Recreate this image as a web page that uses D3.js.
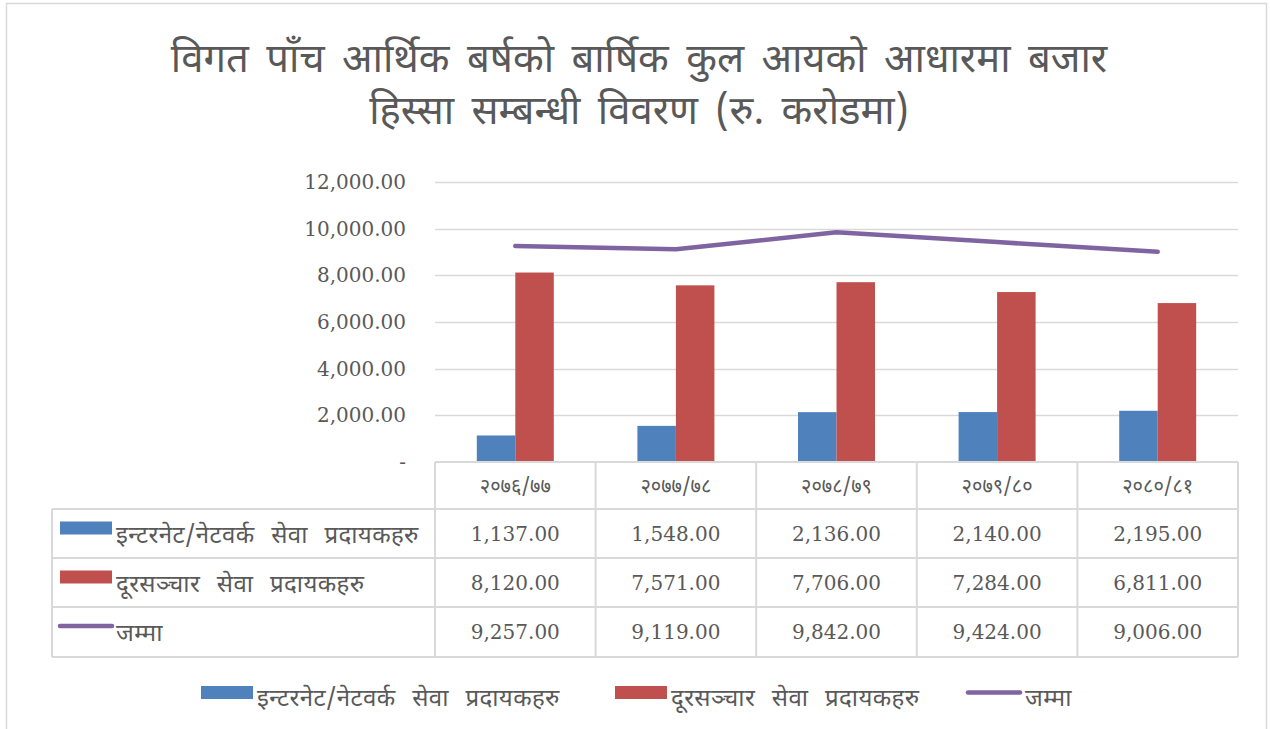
<!DOCTYPE html>
<html>
<head>
<meta charset="utf-8">
<script src="https://cdn.jsdelivr.net/npm/d3@7/dist/d3.min.js"></script>
<style>
  html, body { margin: 0; padding: 0; background: #fff; }
  svg { display: block; }
</style>
</head>
<body>
<svg id="chart" width="1270" height="729"></svg>
<script>
// ---- DATA ----
const titleLines = ["विगत पाँच आर्थिक बर्षको बार्षिक कुल आयको आधारमा बजार", "हिस्सा सम्बन्धी विवरण (रु. करोडमा)"];
const categories = ["२०७६/७७", "२०७७/७८", "२०७८/७९", "२०७९/८०", "२०८०/८१"];
const seriesNames = ["इन्टरनेट/नेटवर्क सेवा प्रदायकहरु", "दूरसञ्चार सेवा प्रदायकहरु", "जम्मा"];
const internetValues = [1137, 1548, 2136, 2140, 2195];
const telecomValues = [8120, 7571, 7706, 7284, 6811];
const totalValues = [9257, 9119, 9842, 9424, 9006];
const yTickValues = [0, 2000, 4000, 6000, 8000, 10000, 12000];

// ---- STYLE ----
const colors = ["#4F81BD", "#C0504D", "#8064A2"];
const textColor = "#595959";
const gridColor = "#D9D9D9";
const devaFont = "'Noto Sans Devanagari', 'Nirmala UI', 'Mangal', 'Lohit Devanagari', 'Noto Sans', sans-serif";
const numFont = "'DejaVu Serif', 'Liberation Serif', serif";

const svg = d3.select("#chart");

// outer border
svg.append("rect").attr("x", 6.5).attr("y", 3.5).attr("width", 1260).attr("height", 740)
  .attr("fill", "#fff").attr("stroke", gridColor).attr("stroke-width", 1.5);

// title
svg.append("g").selectAll("text").data(titleLines).join("text")
  .attr("x", 639).attr("y", (d, i) => 72 + i * 52)
  .attr("text-anchor", "middle")
  .attr("font-family", devaFont).attr("font-size", 40)
  .attr("word-spacing", 7)
  .attr("fill", textColor)
  .text(d => d);

// scales
const plotLeft = 435, plotRight = 1238, plotTop = 182, plotBottom = 462;
const x = d3.scaleBand().domain(categories).range([plotLeft, plotRight]).padding(0);
const y = d3.scaleLinear().domain([0, 12000]).range([plotBottom, plotTop]);
const barW = 38.5;
const xs = d3.scaleBand().domain([0, 1]).range([-barW, barW]).padding(0);

// gridlines
svg.append("g").selectAll("line").data(yTickValues.filter(d => d > 0)).join("line")
  .attr("x1", plotLeft).attr("x2", plotRight)
  .attr("y1", d => Math.round(y(d)) + 0.5).attr("y2", d => Math.round(y(d)) + 0.5)
  .attr("stroke", gridColor).attr("stroke-width", 1.5);

// y axis labels
const yAxis = d3.axisLeft(y).tickValues(yTickValues)
  .tickFormat(d => d === 0 ? "-" : d3.format(",.2f")(d))
  .tickSize(0).tickPadding(29);
const gy = svg.append("g").attr("transform", `translate(${plotLeft},0)`).call(yAxis);
gy.select(".domain").remove();
gy.selectAll("text").attr("font-family", numFont).attr("font-size", 20).attr("fill", textColor);

// bars
const barSeries = [internetValues, telecomValues];
barSeries.forEach((vals, si) => {
  svg.append("g").selectAll("rect").data(vals).join("rect")
    .attr("x", (d, i) => x(categories[i]) + x.bandwidth() / 2 + xs(si))
    .attr("width", xs.bandwidth())
    .attr("y", d => y(d))
    .attr("height", d => y(0) - y(d))
    .attr("fill", colors[si]);
});

// line
const line = d3.line()
  .x((d, i) => x(categories[i]) + x.bandwidth() / 2)
  .y(d => y(d));
svg.append("path").datum(totalValues)
  .attr("d", line)
  .attr("fill", "none").attr("stroke", colors[2]).attr("stroke-width", 4.5)
  .attr("stroke-linecap", "round").attr("stroke-linejoin", "round");

// data table
const tableLeft = 52;
const rowEdges = [462, 509, 558, 607, 657];
const tg = svg.append("g");
rowEdges.forEach((yy, i) => {
  tg.append("line")
    .attr("x1", i === 0 ? plotLeft : tableLeft).attr("x2", plotRight)
    .attr("y1", yy).attr("y2", yy)
    .attr("stroke", gridColor).attr("stroke-width", 2);
});
const colEdges = categories.map(c => x(c)).concat([plotRight]);
colEdges.forEach(xx => {
  tg.append("line").attr("x1", xx).attr("x2", xx)
    .attr("y1", rowEdges[0]).attr("y2", rowEdges[4])
    .attr("stroke", gridColor).attr("stroke-width", 2);
});
tg.append("line").attr("x1", tableLeft).attr("x2", tableLeft)
  .attr("y1", rowEdges[1]).attr("y2", rowEdges[4])
  .attr("stroke", gridColor).attr("stroke-width", 2);

// header labels
tg.selectAll("text.hdr").data(categories).join("text").attr("class", "hdr")
  .attr("x", d => x(d) + x.bandwidth() / 2)
  .attr("y", (rowEdges[0] + rowEdges[1]) / 2)
  .attr("dy", "0.35em")
  .attr("text-anchor", "middle")
  .attr("font-family", devaFont).attr("font-size", 20)
  .attr("fill", textColor)
  .text(d => d);

// rows
const tableRows = [internetValues, telecomValues, totalValues];
tableRows.forEach((vals, ri) => {
  const cy = (rowEdges[ri + 1] + rowEdges[ri + 2]) / 2;
  tg.append("g").selectAll("text").data(vals).join("text")
    .attr("x", (d, i) => x(categories[i]) + x.bandwidth() / 2)
    .attr("y", cy).attr("dy", "0.35em")
    .attr("text-anchor", "middle")
    .attr("font-family", numFont).attr("font-size", 20)
    .attr("fill", textColor)
    .text(d => d3.format(",.2f")(d));
  if (ri < 2) {
    tg.append("rect").attr("x", 60).attr("y", cy - 12).attr("width", 52).attr("height", 13)
      .attr("fill", colors[ri]);
  } else {
    tg.append("line").attr("x1", 60).attr("x2", 112).attr("y1", cy - 6).attr("y2", cy - 6)
      .attr("stroke", colors[ri]).attr("stroke-width", 4.5).attr("stroke-linecap", "round");
  }
  tg.append("text").attr("x", 116).attr("y", cy + 1).attr("dy", "0.35em")
    .attr("font-family", devaFont).attr("font-size", 24)
    .attr("word-spacing", 10).attr("letter-spacing", 0.4)
    .attr("fill", textColor)
    .text(seriesNames[ri]);
});

// bottom legend
const legendItems = [
  { key: 201, text: 257 },
  { key: 615, text: 671 },
  { key: 966, text: 1025 }
];
const lg = svg.append("g");
legendItems.forEach((it, i) => {
  if (i < 2) {
    lg.append("rect").attr("x", it.key).attr("y", 686).attr("width", 52).attr("height", 13).attr("fill", colors[i]);
  } else {
    lg.append("line").attr("x1", it.key + 2).attr("x2", it.key + 54).attr("y1", 692.5).attr("y2", 692.5)
      .attr("stroke", colors[i]).attr("stroke-width", 4.5).attr("stroke-linecap", "round");
  }
  lg.append("text").attr("x", it.text).attr("y", 698).attr("dy", "0.35em")
    .attr("font-family", devaFont).attr("font-size", 24)
    .attr("word-spacing", 10).attr("letter-spacing", 0.4)
    .attr("fill", textColor)
    .text(seriesNames[i]);
});
</script>
</body>
</html>
